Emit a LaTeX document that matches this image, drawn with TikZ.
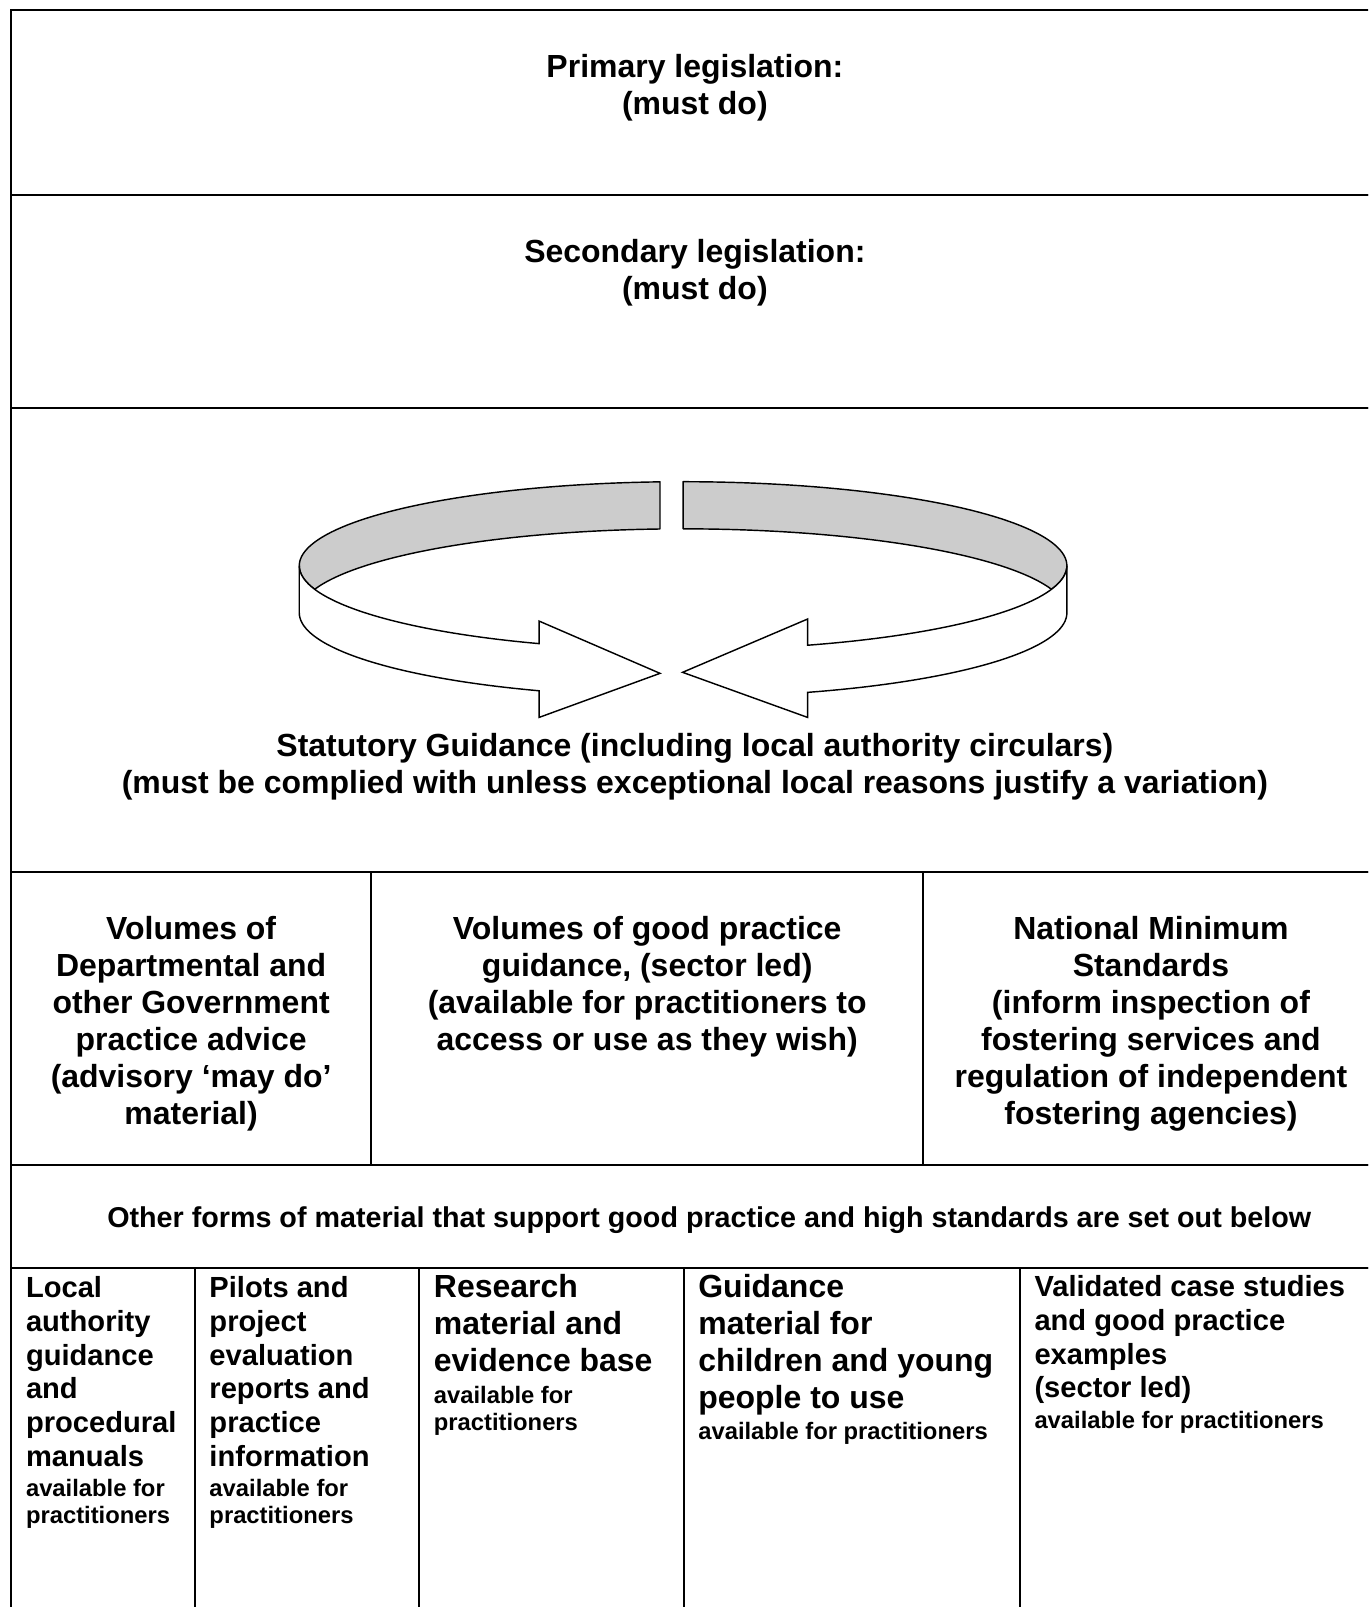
\documentclass[tikz,border=0pt]{standalone}
\usepackage{fontspec}
\setmainfont{Liberation Sans}
\usepackage{tikz}
\def \bigf {\fontsize{15.6}{18}\selectfont\bfseries}
\def \midf {\fontsize{14.2}{16.5}\selectfont\bfseries}
\def \smallf {\fontsize{11.6}{13.5}\selectfont\bfseries}
\def \otherf {\fontsize{14}{16}\selectfont\bfseries}
\def \ringx {666.5}
\def \ringy {552}
\def \ringa {374.5}
\def \ringb {82}
\def \ringh {46}
\begin{document}
\begin{tikzpicture}[x=0.5pt,y=-0.5pt]
\tikzstyle{rule}=[line width=1pt];
\tikzstyle{band}=[draw,fill=black!20,line width=0.7pt,line join=round];
\tikzstyle{ribbon}=[draw,fill=white,line width=0.7pt];
\tikzstyle{head}=[anchor=north,align=center,inner sep=0pt,font=\bigf];
\tikzstyle{cellbig}=[anchor=north west,align=left,inner sep=0pt,font=\bigf];
\tikzstyle{cellmid}=[anchor=north west,align=left,inner sep=0pt,font=\midf];
\clip (0,0) rectangle (1335,1568);
\draw [rule] (11,10) rectangle (1345,190);
\draw [rule] (11,190) rectangle (1345,398);
\draw [rule] (11,398) rectangle (1345,851);
\draw [rule] (11,851) rectangle (362,1137);
\draw [rule] (362,851) rectangle (901,1137);
\draw [rule] (901,851) rectangle (1345,1137);
\draw [rule] (11,1137) rectangle (1345,1237);
\draw [rule] (11,1237) rectangle (190,1600);
\draw [rule] (190,1237) rectangle (409,1600);
\draw [rule] (409,1237) rectangle (667,1600);
\draw [rule] (667,1237) rectangle (995,1600);
\draw [rule] (995,1237) rectangle (1345,1600);
\draw [band] plot[domain=163.71:266.55,samples=60] ({\ringx+\ringa*cos(\x)},{\ringy+\ringb*sin(\x)})
  -- plot[domain=266.55:196.29,samples=60] ({\ringx+\ringa*cos(\x)},{\ringy+\ringh+\ringb*sin(\x)}) -- cycle;
\draw [band] plot[domain=270:376.29,samples=60] ({\ringx+\ringa*cos(\x)},{\ringy+\ringb*sin(\x)})
  -- plot[domain=343.71:270,samples=60] ({\ringx+\ringa*cos(\x)},{\ringy+\ringh+\ringb*sin(\x)}) -- cycle;
\draw [ribbon] plot[domain=163.71:112.03,samples=40] ({\ringx+\ringa*cos(\x)},{\ringy+\ringb*sin(\x)})
  -- (526,606) -- (644,657) -- (526,700)
  -- plot[domain=112.03:180,samples=40] ({\ringx+\ringa*cos(\x)},{\ringy+\ringh+\ringb*sin(\x)})
  -- plot[domain=180:163.71,samples=10] ({\ringx+\ringa*cos(\x)},{\ringy+\ringb*sin(\x)}) -- cycle;
\draw [ribbon] plot[domain=16.29:71.07,samples=40] ({\ringx+\ringa*cos(\x)},{\ringy+\ringb*sin(\x)})
  -- (788,604) -- (666,656) -- (788,700)
  -- plot[domain=71.07:0,samples=40] ({\ringx+\ringa*cos(\x)},{\ringy+\ringh+\ringb*sin(\x)})
  -- plot[domain=0:16.29,samples=10] ({\ringx+\ringa*cos(\x)},{\ringy+\ringb*sin(\x)}) -- cycle;
\node (primary) [head] at (678,53) {Primary legislation:\\(must do)};
\node (secondary) [head] at (678,233) {Secondary legislation:\\(must do)};
\node (statutory) [head] at (678,715) {Statutory Guidance (including local authority circulars)\\(must be complied with unless exceptional local reasons justify a variation)};
\node (departmental) [head] at (186.5,894) {Volumes of\\Departmental and\\other Government\\practice advice\\(advisory `may do'\\material)};
\node (goodpractice) [head] at (631.5,894) {Volumes of good practice\\guidance, (sector led)\\(available for practitioners to\\access or use as they wish)};
\node (standards) [head] at (1123,894) {National Minimum\\Standards\\(inform inspection of\\fostering services and\\regulation of independent\\fostering agencies)};
\node (other) [head,font=\otherf] at (692,1177) {Other forms of material that support good practice and high standards are set out below};
\node (local) [cellmid] at (25,1245) {Local\\authority\\guidance\\and\\procedural\\manuals\\[-2pt]{\smallf available for}\\[-3pt]{\smallf practitioners}};
\node (pilots) [cellmid] at (204,1245) {Pilots and\\project\\evaluation\\reports and\\practice\\information\\[-2pt]{\smallf available for}\\[-3pt]{\smallf practitioners}};
\node (research) [cellbig] at (423,1243) {Research\\material and\\evidence base\\[-2.5pt]{\smallf available for}\\[-4.5pt]{\smallf practitioners}};
\node (children) [cellbig] at (681,1243) {Guidance\\material for\\children and young\\people to use\\[-2.5pt]{\smallf available for practitioners}};
\node (casestudies) [cellmid] at (1009,1244) {Validated case studies\\and good practice\\examples\\(sector led)\\[-1.5pt]{\smallf available for practitioners}};
\end{tikzpicture}
\end{document}
